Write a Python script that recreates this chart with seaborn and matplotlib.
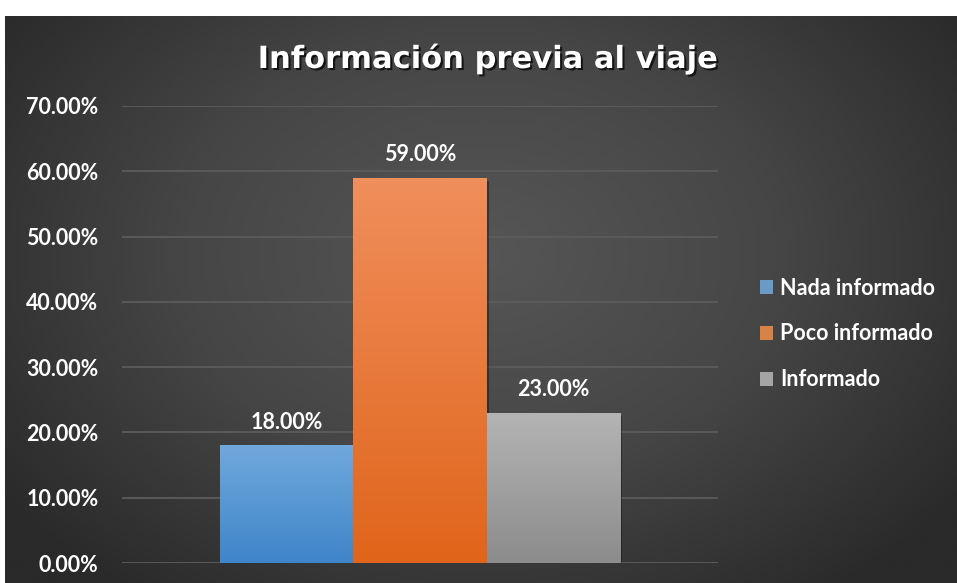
import numpy as np
import pandas as pd
import matplotlib
matplotlib.use("Agg")
import matplotlib.pyplot as plt
import matplotlib.patheffects as pe
from matplotlib.colors import LinearSegmentedColormap
import seaborn as sns

# datos
series = ["Nada informado", "Poco informado", "Informado"]
valores = [0.18, 0.59, 0.23]
titulo = "Información previa al viaje"
yticks = [0.0, 0.1, 0.2, 0.3, 0.4, 0.5, 0.6, 0.7]

# colores (arriba / abajo del degradado)
col_base = ["#5b9bd5", "#ed7d31", "#a5a5a5"]
col_arriba = ["#70a8dc", "#f08e5c", "#b4b4b4"]
col_abajo = ["#3f85c9", "#e0651b", "#8c8c8c"]

df = pd.DataFrame({"grupo": [""] * len(series), "serie": series, "valor": valores})

sns.set_theme(style="white")
plt.rcParams["font.family"] = ["Lato", "DejaVu Sans"]

fig = plt.figure(figsize=(9.57, 5.83), dpi=100)
fig.patch.set_facecolor("white")

# fondo con degradado radial
bg = fig.add_axes([5 / 957, 0, 952 / 957, 567 / 583], zorder=-5)
yy, xx = np.mgrid[0:1:300j, 0:1:500j]
r = np.sqrt(((xx - 0.5) / 0.62) ** 2 + ((yy - 0.42) / 0.75) ** 2)
r = np.clip(r, 0, 1)
cm_bg = LinearSegmentedColormap.from_list("bg", ["#565656", "#464646", "#2a2a2a"])
bg.imshow(r, cmap=cm_bg, aspect="auto", extent=(0, 1, 0, 1), origin="upper")
bg.axis("off")

ax = fig.add_axes([122 / 957, 20 / 583, 596 / 957, 457 / 583])
ax.patch.set_alpha(0)

sns.barplot(data=df, x="grupo", y="valor", hue="serie", palette=col_base,
            width=0.67, ax=ax, legend=True, zorder=3, linewidth=0, edgecolor="none")

# degradado vertical dentro de cada barra
grad = np.linspace(1, 0, 100).reshape(-1, 1)
for i, cont in enumerate(ax.containers):
    bar = cont.patches[0]
    x0, y0 = bar.get_x(), bar.get_y()
    w, h = bar.get_width(), bar.get_height()
    cmap = LinearSegmentedColormap.from_list("g%d" % i, [col_abajo[i], col_arriba[i]])
    bar.set_path_effects([pe.SimplePatchShadow(offset=(2, -2), alpha=0.35, shadow_rgbFace="black"), pe.Normal()])
    im = ax.imshow(grad, cmap=cmap, aspect="auto", extent=(x0, x0 + w, y0, y0 + h),
                   zorder=4, vmin=0, vmax=1)
    im.set_clip_path(bar)
    ax.bar_label(cont, labels=[f"{v * 100:.2f}%" for v in cont.datavalues],
                 padding=9, color="white", fontsize=15.5, fontweight="bold", zorder=5)

ax.set_xlim(-0.5, 0.5)
ax.set_ylim(0, 0.7)
ax.set_yticks(yticks)
ax.set_yticklabels([f"{t * 100:.2f}%" for t in yticks])
ax.tick_params(axis="y", length=0, pad=17, labelsize=15.5, labelcolor="white")
for lab in ax.get_yticklabels():
    lab.set_fontweight("bold")
ax.set_xticks([])
ax.set_xlabel("")
ax.set_ylabel("")
ax.grid(axis="y", color="#5c5c5c", linewidth=1.3, zorder=0)
sns.despine(ax=ax, left=True, bottom=True)

handles, labels = ax.get_legend_handles_labels()
for hd in handles:
    hd.set_edgecolor("none")
ax.legend(handles, labels, loc="center left", bbox_to_anchor=(741 / 957, 1 - 334 / 583),
          bbox_transform=fig.transFigure, frameon=False, labelcolor="white",
          prop={"weight": "bold", "size": 15.5}, handlelength=0.6, handleheight=0.6,
          handletextpad=0.3, labelspacing=1.15)

fig.text(487 / 957, 1 - 68 / 583, titulo, ha="center", va="baseline", color="white",
         fontsize=22, fontweight="bold", family=["DejaVu Sans"],
         path_effects=[pe.withSimplePatchShadow(offset=(1.5, -1.5), alpha=0.7, shadow_rgbFace="black")])

fig.savefig("out.png", dpi=100)
